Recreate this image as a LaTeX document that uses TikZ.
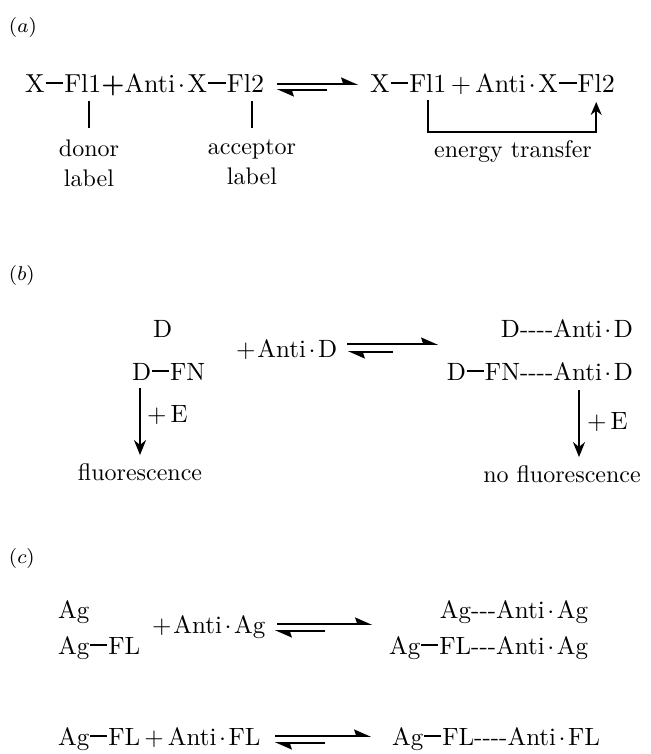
\documentclass[tikz,border=0pt]{standalone}
\usetikzlibrary{arrows.meta,positioning}
\newcommand{\bnd}{\kern0.4pt\rule[0.34em]{0.68em}{0.075em}\kern0.4pt}
\newcommand{\hb}{-\kern0pt}
\newcommand{\cd}{\kern1pt$\cdot$\kern1pt}
\begin{document}
\begin{tikzpicture}[
  x=1pt, y=-1pt,
  every node/.style={font=\fontsize{10}{12.3}\selectfont, inner sep=0pt, outer sep=0pt},
  chem/.style={anchor=base west, scale=2.5},
  chemr/.style={anchor=base east, scale=2.5},
  chema/.style={anchor=base west, scale=2.6},
  tag/.style={anchor=base west, scale=2.5, font=\fontsize{8}{9}\selectfont},
  lbl/.style={align=center, scale=2.4},
  addE/.style={scale=2.5},
  eqarr/.style={line width=1.6pt, -{Stealth[left, length=15pt, width=13pt, inset=2pt]}},
  tick/.style={line width=1.8pt},
  ettip/.style={line width=1.8pt, -{Stealth[length=13pt, width=11pt]}},
  down/.style={line width=2pt, -{Stealth[length=15pt, width=12pt]}}
]
\useasboundingbox (0,0) rectangle (650,754);

% (a)
\node[tag] (tagA) at (9,33) {$(a)$};
\node[chema] (xa) at (25,93) {X\bnd};
\node[chema] (fla) at (xa.base east) {Fl1};
\node[chema] (anta) at (fla.base east) {\textbf{+}Anti\cd X\bnd};
\node[chema] (fla2) at (anta.base east) {Fl2};
\node[chema] (xb) at (370,93) {X\bnd};
\node[chema] (flb) at (xb.base east) {Fl1};
\node[chema] (antb) at (flb.base east) {\,+\,Anti\cd X\bnd};
\node[chema] (flb2) at (antb.base east) {Fl2};
\node[lbl, anchor=north] (donor) at (89,140) {donor\\label};
\node[lbl, anchor=north] (acc) at (252,140) {acceptor\\label};
\node[lbl, anchor=base] (et) at (513,158) {energy transfer};
\coordinate (eqa1) at (277,84);
\coordinate (eqa2) at (358,84);
\coordinate (eqa3) at (327,90);
\coordinate (eqa4) at (277,90);
\draw[eqarr] (eqa1) -- (eqa2);
\draw[eqarr] (eqa3) -- (eqa4);
\draw[tick] ([yshift=-8pt]fla.south -| donor.north) -- ([yshift=12pt]donor.north);
\draw[tick] ([yshift=-8pt]fla2.south -| acc.north) -- ([yshift=12pt]acc.north);
\draw[ettip] ([yshift=-7pt]flb.south) -- ([yshift=9pt]flb.south |- et.north) -| ([yshift=-9pt]flb2.south);

% (b)
\node[tag] (tagB) at (9,280) {$(b)$};
\node[chem] (dd) at (153,337) {D};
\node[chem] (dfn) at (132,380) {D\bnd FN};
\node[chem] (antd) at (236,357) {+\kern0.8pt Anti\cd D};
\node[chemr] (dr1) at (633,337) {D\hb\hb\hb\hb Anti\cd D};
\node[chemr] (dr2) at (633,380) {D\bnd FN\hb\hb\hb\hb Anti\cd D};
\node[lbl, anchor=base] (fluo) at (140,480) {fluorescence};
\node[lbl, anchor=base] (nofl) at (562,482) {no fluorescence};
\coordinate (eqb1) at (347,344);
\coordinate (eqb2) at (438,344);
\coordinate (eqb3) at (393,352);
\coordinate (eqb4) at (348,352);
\draw[eqarr] (eqb1) -- (eqb2);
\draw[eqarr] (eqb3) -- (eqb4);
\draw[down, shorten <=8pt, shorten >=8pt] (dfn.south -| fluo.north) -- (fluo.north)
  node[addE, pos=0.42, right=7pt] (ea) {+\,E};
\coordinate (er) at (579,390);
\draw[down, shorten >=8pt] (er) -- (er |- nofl.north)
  node[addE, pos=0.42, right=8pt] (eb) {+\,E};

% (c)
\node[tag] (tagC) at (9,563) {$(c)$};
\node[chem] (ag) at (58,618) {Ag};
\node[chem] (agfl) at (58,654) {Ag\bnd FL};
\node[chem] (antag) at (152,633) {+\kern0.8pt Anti\cd Ag};
\node[chemr] (cr1) at (588,618) {Ag\hb\hb\hb Anti\cd Ag};
\node[chemr] (cr2) at (588,654) {Ag\bnd FL\hb\hb\hb Anti\cd Ag};
\node[chem] (agfl2) at (58,745) {Ag\bnd FL\,+\,Anti\cd FL};
\node[chem] (cr3) at (392,745) {Ag\bnd FL\hb\hb\hb\hb Anti\cd FL};
\coordinate (eqc1) at (277,624);
\coordinate (eqc2) at (372,624);
\coordinate (eqc3) at (325,631);
\coordinate (eqc4) at (275,631);
\draw[eqarr] (eqc1) -- (eqc2);
\draw[eqarr] (eqc3) -- (eqc4);
\coordinate (eqd1) at (275,736);
\coordinate (eqd2) at (371,736);
\coordinate (eqd3) at (325,743);
\coordinate (eqd4) at (275,743);
\draw[eqarr] (eqd1) -- (eqd2);
\draw[eqarr] (eqd3) -- (eqd4);
\end{tikzpicture}
\end{document}
